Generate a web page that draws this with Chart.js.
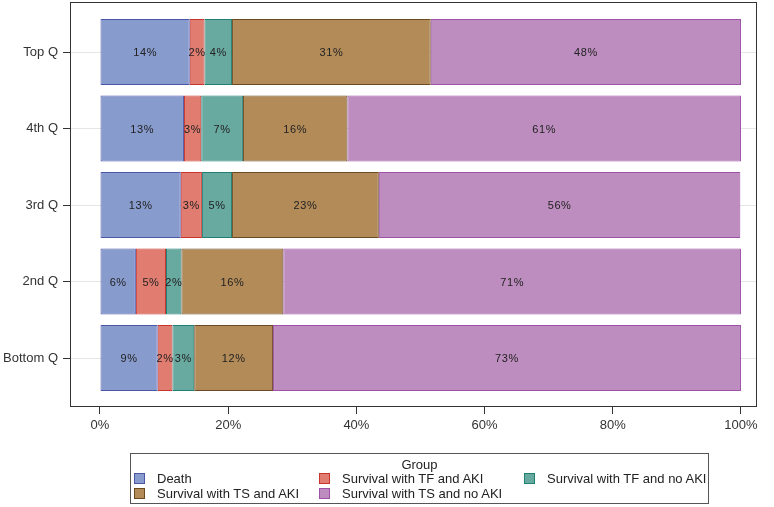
<!DOCTYPE html>
<html>
<head>
<meta charset="utf-8">
<script src="https://cdn.jsdelivr.net/npm/chart.js@4"></script>
<style>
  html,body{margin:0;padding:0;background:#fff;overflow:hidden;}
  #wrap{position:relative;width:774px;height:507px;}
  #c{position:absolute;left:0;top:0;}
  #legend{position:absolute;left:130px;top:453px;width:579px;height:51px;border:1px solid #555;box-sizing:border-box;
    font-family:"Liberation Sans",Arial,sans-serif;font-size:13px;color:#222;}
  #legend .title{position:absolute;left:0;right:0;top:3px;text-align:center;}
  #legend .item{position:absolute;white-space:nowrap;line-height:15px;}
  #legend .sw{position:absolute;top:2px;width:9px;height:9px;border:1px solid;}
  #legend .lb{position:absolute;left:23px;top:0;}
</style>
</head>
<body>
<div id="wrap">
<canvas id="c" width="774" height="507"></canvas>
<div id="legend"><div class="title">Group</div></div>
</div>
<script>
// ---- data ----
const categories = ['Top Q', '4th Q', '3rd Q', '2nd Q', 'Bottom Q'];
const seriesNames = ['Death', 'Survival with TF and AKI', 'Survival with TF and no AKI', 'Survival with TS and AKI', 'Survival with TS and no AKI'];
const death      = [14.0, 13.1, 12.6, 5.6, 9.0];
const tfAki      = [2.3, 2.7, 3.3, 4.7, 2.3];
const tfNoAki    = [4.3, 6.5, 4.7, 2.4, 3.4];
const tsAki      = [31.0, 16.3, 22.9, 15.9, 12.3];
const tsNoAki    = [48.4, 61.4, 56.4, 71.4, 73.0];
const xTickValues = [0, 20, 40, 60, 80, 100];
const xTickLabels = ['0%', '20%', '40%', '60%', '80%', '100%'];

const seriesValues = [death, tfAki, tfNoAki, tsAki, tsNoAki];
const fills   = ['#879BCD', '#E07C70', '#68A9A0', '#B38B58', '#BD8DBF'];
const borders = ['#4D55A6', '#C8352F', '#1F7F73', '#6B4A22', '#9E52A6'];

const datasets = seriesNames.map((name, s) => ({
  label: name,
  data: seriesValues[s].map((v, i) => ({x: v, y: i})),
  backgroundColor: fills[s],
  borderColor: borders[s],
  borderWidth: 1,
  borderSkipped: false,
  categoryPercentage: 1,
  barPercentage: 0.863,
  stack: 'a'
}));

const FONT = '"Liberation Sans", Arial, sans-serif';

const framePlugin = {
  id: 'frame',
  afterDraw(chart) {
    const {ctx, chartArea: a} = chart;
    ctx.save();
    ctx.strokeStyle = '#333';
    ctx.lineWidth = 1;
    ctx.strokeRect(Math.round(a.left) + 0.5, Math.round(a.top) + 0.5, Math.round(a.right - a.left) - 1, Math.round(a.bottom - a.top) - 1);
    ctx.restore();
  }
};

const labelPlugin = {
  id: 'barLabels',
  afterDatasetsDraw(chart) {
    const {ctx} = chart;
    ctx.save();
    ctx.font = '11px ' + FONT;
    if ('letterSpacing' in ctx) ctx.letterSpacing = '0.6px';
    ctx.fillStyle = '#222';
    ctx.textAlign = 'center';
    ctx.textBaseline = 'middle';
    chart.data.datasets.forEach((ds, di) => {
      const meta = chart.getDatasetMeta(di);
      meta.data.forEach((el, i) => {
        const v = seriesValues[di][i];
        const cx = (el.x + el.base) / 2;
        ctx.fillText(Math.round(v) + '%', cx, el.y + 1);
      });
    });
    ctx.restore();
  }
};

new Chart(document.getElementById('c'), {
  type: 'bar',
  data: { datasets },
  options: {
    indexAxis: 'y',
    responsive: false,
    animation: false,
    layout: { padding: { top: 2, right: 17, left: 0, bottom: 0 } },
    plugins: { legend: { display: false }, tooltip: { enabled: false } },
    scales: {
      x: {
        type: 'linear',
        stacked: true,
        min: -4.68,
        max: 102.5,
        afterBuildTicks(scale) { scale.ticks = xTickValues.map(v => ({value: v})); },
        afterFit(scale) { scale.height = 100; scale.paddingLeft = 0; scale.paddingRight = 0; },
        ticks: {
          callback(v) { const k = xTickValues.indexOf(v); return k >= 0 ? xTickLabels[k] : ''; },
          font: { family: FONT, size: 13 },
          color: '#333',
          padding: 4,
          maxRotation: 0,
          autoSkip: false
        },
        grid: { display: true, drawOnChartArea: false, tickLength: 7, tickColor: '#333' },
        border: { display: false }
      },
      y: {
        type: 'linear',
        stacked: true,
        reverse: true,
        offset: false,
        min: -0.654,
        max: 4.64,
        afterBuildTicks(scale) { scale.ticks = categories.map((c, i) => ({value: i})); },
        afterFit(scale) { scale.width = 70; scale.paddingTop = 0; scale.paddingBottom = 0; },
        ticks: {
          callback(v) { return categories[v] !== undefined ? categories[v] : ''; },
          font: { family: FONT, size: 13 },
          color: '#333',
          padding: 5,
          autoSkip: false
        },
        grid: { display: true, offset: false, drawOnChartArea: true, color: '#E6E6E6', tickLength: 7, tickColor: '#333' },
        border: { display: false }
      }
    }
  },
  plugins: [framePlugin, labelPlugin]
});

// ---- HTML legend built from the series arrays ----
const legend = document.getElementById('legend');
const pos = [[3, 17], [188, 17], [393, 17], [3, 32], [188, 32]];
seriesNames.forEach((name, s) => {
  const it = document.createElement('div');
  it.className = 'item';
  it.style.left = pos[s][0] + 'px';
  it.style.top = pos[s][1] + 'px';
  const sw = document.createElement('span');
  sw.className = 'sw';
  sw.style.background = fills[s];
  sw.style.borderColor = borders[s];
  const lb = document.createElement('span');
  lb.className = 'lb';
  lb.textContent = name;
  it.appendChild(sw); it.appendChild(lb);
  legend.appendChild(it);
});
</script>
</body>
</html>
